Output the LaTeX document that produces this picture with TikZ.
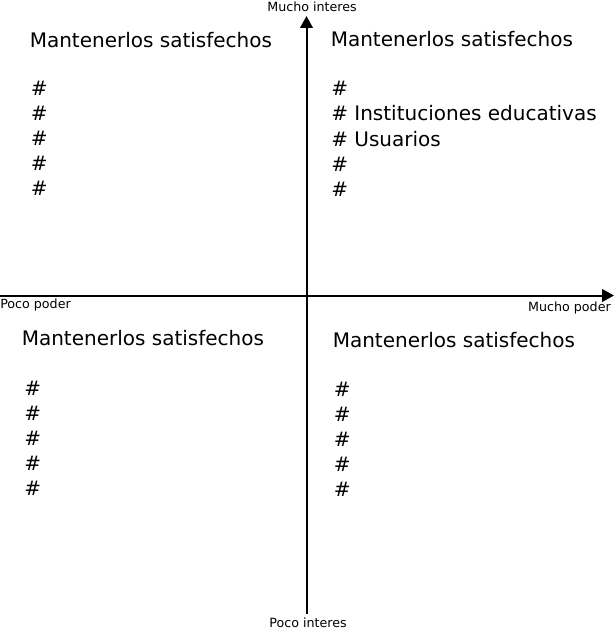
\documentclass[tikz,border=0pt]{standalone}
\usepackage{fontspec}
\setmainfont{DejaVu Sans}
\usetikzlibrary{arrows.meta}
\begin{document}
\begin{tikzpicture}[x=0.75pt,y=-0.75pt,
  axis/.style={line width=1.5pt,-{Triangle[length=9pt,width=9.5pt]}},
  entry/.style={anchor=base west,inner sep=0pt,font=\fontsize{15}{18}\selectfont},
  axislabel/.style={inner sep=0pt,font=\fontsize{9.5}{11}\selectfont}]
\useasboundingbox (0,0) rectangle (615,631);
% axes
\coordinate (L) at (0,295.5);
\coordinate (R) at (614,295.5);
\coordinate (B) at (306.5,614);
\coordinate (T) at (306.5,16);
\draw[axis] (L) -- (R);
\draw[axis] (B) -- (T);
\node[axislabel] (mi) at (312,7) {Mucho interes};
\node[axislabel] (pi) at (308,623) {Poco interes};
\node[axislabel,anchor=west] (pp) at (0,305) {Poco poder};
\node[axislabel,anchor=east] (mp) at (611,308) {Mucho poder};
% quadrants
\node[entry] (TL) at (29.5,47.5) {Mantenerlos satisfechos};
\node[entry] (TR) at (330.5,47) {Mantenerlos satisfechos};
\node[entry] (BL) at (21.5,345) {Mantenerlos satisfechos};
\node[entry] (BR) at (332.5,347) {Mantenerlos satisfechos};
\foreach \i in {1,...,5} {
  \node[entry] (TL\i) at (30.5,70.5+25*\i) {\#};
}
\foreach \i/\t in {1/,2/ Instituciones educativas,3/ Usuarios,4/,5/} {
  \node[entry] (TR\i) at (331,70.5+25.2*\i) {\#\t};
}
\foreach \i in {1,...,5} {
  \node[entry] (BL\i) at (24,370+25*\i) {\#};
}
\foreach \i in {1,...,5} {
  \node[entry] (BR\i) at (333.5,371+25*\i) {\#};
}
\end{tikzpicture}
\end{document}
